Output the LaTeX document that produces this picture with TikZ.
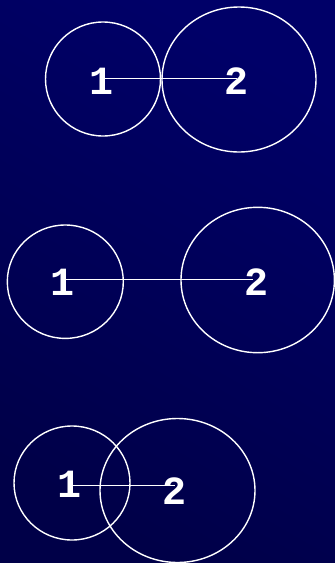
\documentclass[tikz,border=0pt]{standalone}
\usepackage{fontspec}
\newfontfamily\digitfont{Liberation Mono}
\definecolor{bgtop}{RGB}{0,0,104}
\definecolor{bgbot}{RGB}{0,0,72}
\begin{document}
\begin{tikzpicture}[x=1pt,y=-1pt,
  ring/.style={draw=white,line width=1.4pt},
  lbl/.style={text=white,inner sep=0pt,font=\digitfont\bfseries\fontsize{40}{40}\selectfont},
  link/.style={draw=white,line width=1.4pt}]
\useasboundingbox (0,0) rectangle (335,563);
\shade[left color=bgtop,right color=bgbot,shading angle=-30] (0,0) rectangle (335,563);
% pair 1
\draw[ring] (103,79) ellipse [x radius=57.5,y radius=57];
\draw[ring] (239,79.5) ellipse [x radius=77,y radius=72.5];
\node[lbl] (a1) at (102,81) {1};
\node[lbl] (b1) at (236.5,81) {2};
\coordinate (pa1) at (103,78.5);
\coordinate (pb1) at (237,78.5);
\draw[link] (pa1) -- (pb1);
% pair 2
\draw[ring] (65.3,281.7) ellipse [x radius=58,y radius=56.7];
\draw[ring] (257.7,280) ellipse [x radius=76.7,y radius=72.7];
\node[lbl] (a2) at (63,282) {1};
\node[lbl] (b2) at (256,282) {2};
\coordinate (pa2) at (65,279.5);
\coordinate (pb2) at (253,279.5);
\draw[link] (pa2) -- (pb2);
% pair 3
\draw[ring] (72,483) ellipse [x radius=58,y radius=57];
\draw[ring] (177.5,490.5) ellipse [x radius=77.5,y radius=72];
\node[lbl] (a3) at (70,484.5) {1};
\node[lbl] (b3) at (175,491.5) {2};
\coordinate (pa3) at (68,485.5);
\coordinate (pb3) at (175,485.5);
\draw[link] (pa3) -- (pb3);
\end{tikzpicture}
\end{document}
